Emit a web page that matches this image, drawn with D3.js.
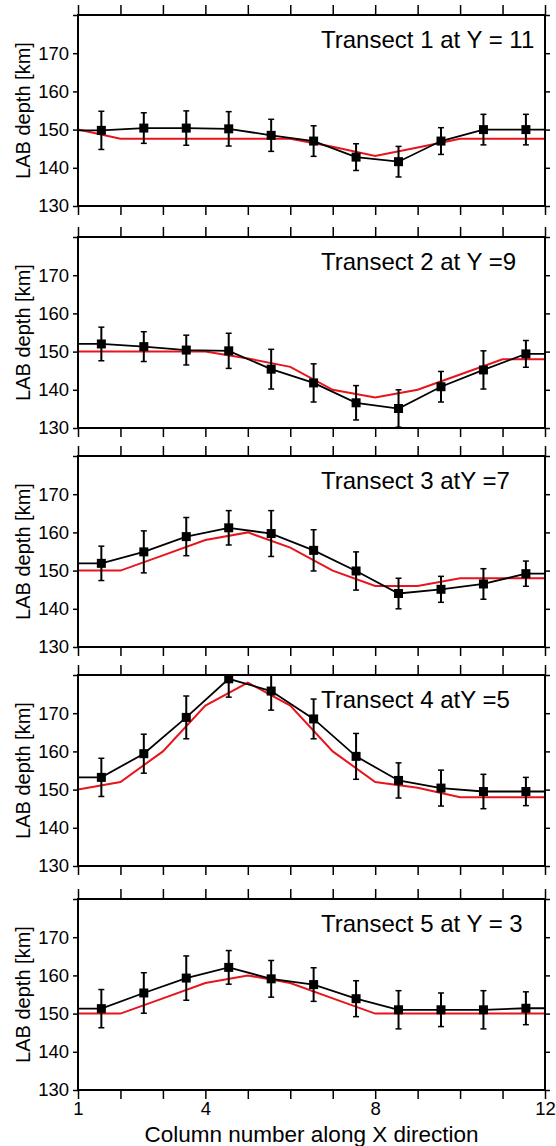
<!DOCTYPE html>
<html>
<head>
<meta charset="utf-8">
<script src="https://cdn.jsdelivr.net/npm/d3@7"></script>
<style>
  body { margin: 0; background: #fff; }
  text { font-family: "Liberation Sans", Arial, Helvetica, sans-serif; fill: #000; }
</style>
</head>
<body>
<div id="chart"></div>
<script>
// transect titles
var titles = ["Transect 1 at Y = 11", "Transect 2 at Y =9", "Transect 3 atY =7",
              "Transect 4 atY =5", "Transect 5 at Y = 3"];

// x of the inverted points (column centres) and of the true model nodes
var pointX = [1.55, 2.55, 3.55, 4.55, 5.55, 6.55, 7.55, 8.55, 9.55, 10.55, 11.55];
var modelX = [1, 2, 3, 4, 5, 6, 7, 8, 9, 10, 11, 12];

// true model LAB depth (red)
var model1 = [150, 147.6, 147.6, 147.6, 147.6, 147.6, 145.5, 143.1, 145.3, 147.6, 147.6, 147.6];
var model2 = [150, 150, 150, 150, 148.2, 146, 140, 138, 140, 144, 148, 148];
var model3 = [150, 150, 154, 158, 160, 156, 150, 146, 146, 148, 148, 148];
var model4 = [150, 152, 160, 172, 178, 172, 160, 152, 150.5, 148, 148, 148];
var model5 = [150, 150, 154, 158, 160, 158, 154, 150, 150, 150, 150, 150];

// inverted LAB depth (black squares)
var inv1 = [149.8, 150.4, 150.4, 150.2, 148.5, 147.0, 142.8, 141.6, 147.0, 150.0, 150.0];
var inv2 = [152.0, 151.3, 150.4, 150.2, 145.4, 141.8, 136.6, 135.1, 140.8, 145.2, 149.4];
var inv3 = [151.9, 154.9, 158.9, 161.2, 159.7, 155.3, 149.9, 144.0, 145.1, 146.5, 149.2];
var inv4 = [153.2, 159.4, 168.9, 179.0, 175.8, 168.5, 158.7, 152.4, 150.4, 149.5, 149.5];
var inv5 = [151.3, 155.4, 159.3, 162.1, 159.1, 157.6, 153.9, 151.0, 151.0, 151.0, 151.4];

// one-sigma error bars
var err1 = [5.0, 4.0, 4.5, 4.5, 4.2, 4.0, 3.5, 4.0, 3.5, 4.0, 4.0];
var err2 = [4.4, 3.9, 3.9, 4.6, 5.2, 5.0, 4.5, 4.9, 4.0, 5.0, 3.5];
var err3 = [4.5, 5.5, 5.0, 4.5, 6.0, 5.4, 5.0, 4.0, 3.4, 4.0, 3.3];
var err4 = [5.0, 5.1, 5.6, 4.8, 5.0, 5.2, 6.0, 4.6, 4.7, 4.5, 3.7];
var err5 = [5.0, 5.3, 5.8, 4.4, 4.8, 4.4, 4.7, 5.0, 4.4, 5.0, 4.3];

var yTicks = [130, 140, 150, 160, 170, 180];
var yLabels = [130, 140, 150, 160, 170];
var xLabels = [1, 4, 8, 12];

var models = [model1, model2, model3, model4, model5];
var invs = [inv1, inv2, inv3, inv4, inv5];
var errs = [err1, err2, err3, err4, err5];

var W = 556, H = 1146;
var left = 78, right = 545;
var panelH = 191;
var panelTops = [15, 237, 456, 675, 899];

var svg = d3.select("#chart").append("svg")
    .attr("width", W)
    .attr("height", H);

var x = d3.scaleLinear().domain([1, 12]).range([left, right]);
var xTickVals = d3.range(1, 13);

titles.forEach(function(title, i) {
  var top = panelTops[i];
  var bottom = top + panelH;
  var y = d3.scaleLinear().domain([130, 180]).range([bottom, top]);

  var g = svg.append("g");

  g.append("clipPath").attr("id", "clip" + i)
    .append("rect")
    .attr("x", left).attr("y", top)
    .attr("width", right - left).attr("height", panelH);

  var plot = g.append("g").attr("clip-path", "url(#clip" + i + ")");

  // red true model
  var modelPts = modelX.map(function(d, j) { return [d, models[i][j]]; });
  var line = d3.line()
    .x(function(d) { return x(d[0]); })
    .y(function(d) { return y(d[1]); });

  plot.append("path")
    .attr("d", line(modelPts))
    .attr("fill", "none")
    .attr("stroke", "#e8141c")
    .attr("stroke-width", 2);

  // black inverted line, held flat out to the frame at both ends
  var invPts = pointX.map(function(d, j) { return [d, invs[i][j]]; });
  var blackPts = [[1, invs[i][0]]].concat(invPts, [[12, invs[i][invs[i].length - 1]]]);

  plot.append("path")
    .attr("d", line(blackPts))
    .attr("fill", "none")
    .attr("stroke", "#000")
    .attr("stroke-width", 1.8);

  // error bars
  var bars = plot.selectAll(".eb").data(invPts).enter().append("g");
  bars.append("line")
    .attr("x1", function(d) { return x(d[0]); })
    .attr("x2", function(d) { return x(d[0]); })
    .attr("y1", function(d, j) { return y(d[1] + errs[i][j]); })
    .attr("y2", function(d, j) { return y(d[1] - errs[i][j]); })
    .attr("stroke", "#000").attr("stroke-width", 2);
  [1, -1].forEach(function(s) {
    bars.append("line")
      .attr("x1", function(d) { return x(d[0]) - 3; })
      .attr("x2", function(d) { return x(d[0]) + 3; })
      .attr("y1", function(d, j) { return y(d[1] + s * errs[i][j]); })
      .attr("y2", function(d, j) { return y(d[1] + s * errs[i][j]); })
      .attr("stroke", "#000").attr("stroke-width", 1.5);
  });

  // squares
  plot.selectAll(".sq").data(invPts).enter().append("rect")
    .attr("x", function(d) { return x(d[0]) - 4.5; })
    .attr("y", function(d) { return y(d[1]) - 4.5; })
    .attr("width", 9).attr("height", 9)
    .attr("fill", "#000");

  // axes: ticks on all four sides, pointing out
  g.append("g")
    .attr("transform", "translate(0," + bottom + ")")
    .call(d3.axisBottom(x).tickValues(xTickVals).tickSize(9)
      .tickFormat(function(d) { return (i === 4 && xLabels.indexOf(d) >= 0) ? d : ""; }))
    .call(function(a) {
      a.select(".domain").remove();
      a.selectAll("line").attr("stroke-width", 1.5);
      a.selectAll("text").attr("font-size", 18.5)
        .style("font-family", '"Liberation Sans", Arial, sans-serif');
    });

  g.append("g")
    .attr("transform", "translate(0," + top + ")")
    .call(d3.axisTop(x).tickValues(xTickVals).tickSize(10).tickFormat(""))
    .call(function(a) {
      a.select(".domain").remove();
      a.selectAll("line").attr("stroke-width", 1.5);
    });

  g.append("g")
    .attr("transform", "translate(" + left + ",0)")
    .call(d3.axisLeft(y).tickValues(yTicks).tickSize(5).tickPadding(4)
      .tickFormat(function(d) { return yLabels.indexOf(d) >= 0 ? d : ""; }))
    .call(function(a) {
      a.select(".domain").remove();
      a.selectAll("line").attr("stroke-width", 1.5);
      a.selectAll("text").attr("font-size", 18.5)
        .style("font-family", '"Liberation Sans", Arial, sans-serif');
    });

  g.append("g")
    .attr("transform", "translate(" + right + ",0)")
    .call(d3.axisRight(y).tickValues(yTicks).tickSize(5).tickFormat(""))
    .call(function(a) {
      a.select(".domain").remove();
      a.selectAll("line").attr("stroke-width", 1.5);
    });

  // frame
  g.append("rect")
    .attr("x", left).attr("y", top)
    .attr("width", right - left).attr("height", panelH)
    .attr("fill", "none")
    .attr("stroke", "#000")
    .attr("stroke-width", 2);

  // panel title
  g.append("text")
    .attr("x", 321)
    .attr("y", top + 33)
    .attr("font-size", 24)
    .text(title);

  // y axis label
  g.append("text")
    .attr("transform", "translate(30," + (top + panelH / 2) + ") rotate(-90)")
    .attr("text-anchor", "middle")
    .attr("font-size", 20)
    .text("LAB depth [km]");
});

svg.append("text")
  .attr("x", (left + right) / 2)
  .attr("y", 1142)
  .attr("text-anchor", "middle")
  .attr("font-size", 22.5)
  .text("Column number along X direction");
</script>
</body>
</html>
